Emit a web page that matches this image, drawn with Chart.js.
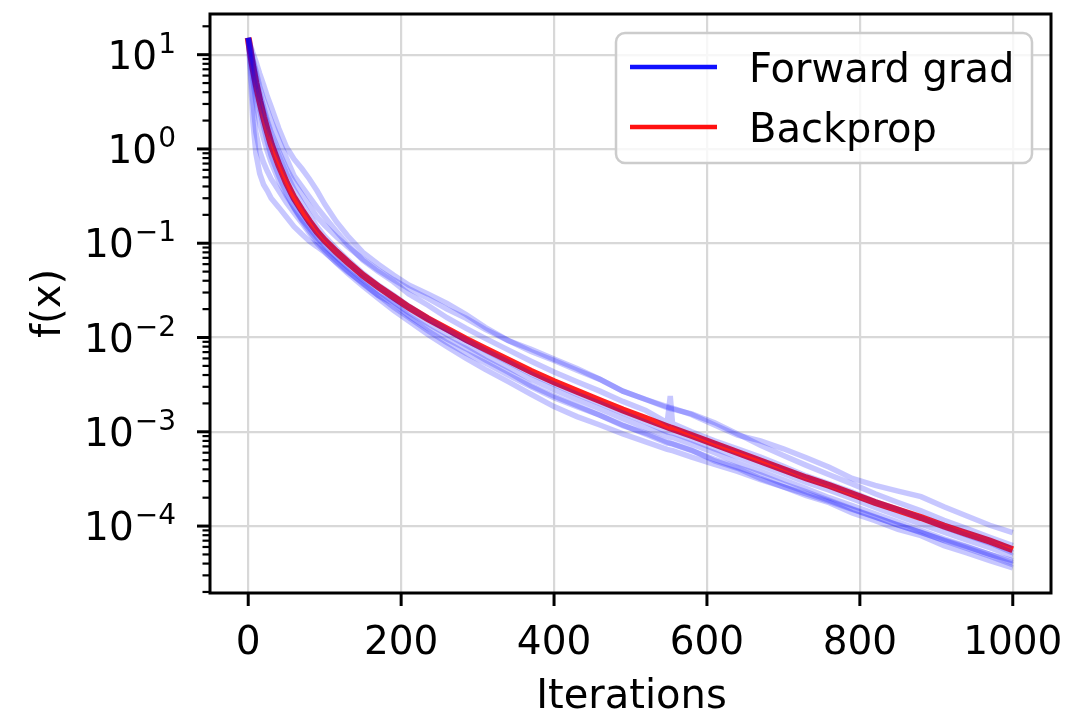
<!DOCTYPE html>
<html>
<head>
<meta charset="utf-8">
<title>Forward grad vs Backprop</title>
<script src="https://cdn.jsdelivr.net/npm/chart.js@4.4.1/dist/chart.umd.min.js"></script>
<style>
  html, body { margin: 0; padding: 0; background: #ffffff; }
  #wrap { width: 1072px; height: 721px; }
</style>
</head>
<body>
<div id="wrap"><canvas id="lossChart" width="1072" height="721"></canvas></div>
<script>
// iteration grid shared by all curves
const iterations = [0, 3, 6, 10, 15, 20, 25, 30, 40, 50, 60, 70, 80, 90, 100, 115, 130, 150, 170, 190,
  210, 235, 260, 285, 310, 340, 370, 400, 430, 460, 490, 520, 548, 552, 555, 580, 610, 640, 670, 700,
  730, 760, 790, 820, 850, 880, 910, 940, 970, 1000];

// backprop f(x)
const backprop = [15.1, 10.5, 7.41, 5.01, 3.24, 2.19, 1.55, 1.12, 0.676, 0.437, 0.302, 0.224, 0.170, 0.132, 0.107, 0.0813, 0.0631, 0.0457, 0.0347, 0.0269,
  0.0209, 0.0158, 0.0123, 0.00955, 0.00759, 0.00575, 0.00437, 0.00339, 0.00269, 0.00214, 0.00170, 0.00138, 0.00113, 0.00110, 0.00108, 0.000912, 0.000741, 0.000603, 0.000490, 0.000398,
  0.000324, 0.000269, 0.000219, 0.000178, 0.000148, 0.000123, 0.000100, 0.0000832, 0.0000692, 0.0000562];

// forward gradient runs
const fwdRun1 = [15.1, 6.0, 2.0, 0.90, 0.55, 0.42, 0.36, 0.30, 0.24, 0.19, 0.15, 0.125, 0.105, 0.092, 0.080, 0.063, 0.050, 0.038, 0.028, 0.023,
  0.017, 0.0126, 0.0096, 0.0076, 0.0058, 0.0043, 0.0031, 0.0024, 0.0019, 0.0015, 0.00116, 0.00097, 0.00078, 0.00076, 0.00075, 0.00064, 0.00049, 0.00041, 0.00032, 0.00026,
  0.00021, 0.000177, 0.000138, 0.000114, 0.000092, 0.000079, 0.000062, 0.000052, 0.000043, 0.000036];
const fwdRun2 = [15.1, 12.5, 10.5, 8.5, 6.3, 4.8, 3.6, 2.8, 1.65, 1.05, 0.78, 0.62, 0.48, 0.36, 0.26, 0.17, 0.12, 0.080, 0.060, 0.046,
  0.036, 0.029, 0.023, 0.0175, 0.0128, 0.0093, 0.0075, 0.0059, 0.0047, 0.0036, 0.0027, 0.0022, 0.00185, 0.00180, 0.00178, 0.00152, 0.00118, 0.00092, 0.00080, 0.00066,
  0.00053, 0.00042, 0.00032, 0.00027, 0.000235, 0.000205, 0.000160, 0.000128, 0.000102, 0.000085];
const fwdRun3 = [15.1, 11.5, 9.0, 6.8, 4.6, 3.4, 2.6, 2.0, 1.25, 0.80, 0.52, 0.40, 0.31, 0.24, 0.19, 0.135, 0.097, 0.066, 0.050, 0.039,
  0.029, 0.022, 0.0162, 0.0125, 0.0098, 0.0074, 0.0056, 0.0043, 0.0034, 0.0027, 0.0021, 0.00168, 0.00125, 0.0024, 0.00122, 0.00100, 0.00080, 0.00066, 0.00054, 0.00043,
  0.00034, 0.00028, 0.00023, 0.000182, 0.000150, 0.000122, 0.000098, 0.000080, 0.000066, 0.000052];
const fwdRun4 = [15.1, 9.0, 5.5, 3.2, 1.9, 1.3, 0.95, 0.72, 0.46, 0.32, 0.24, 0.18, 0.145, 0.115, 0.094, 0.072, 0.056, 0.041, 0.031, 0.024,
  0.0185, 0.0140, 0.0108, 0.0083, 0.0064, 0.0048, 0.0036, 0.0028, 0.0022, 0.00175, 0.00138, 0.00110, 0.00090, 0.00088, 0.00087, 0.00074, 0.00060, 0.00047, 0.00038, 0.00031,
  0.00025, 0.00020, 0.000165, 0.000135, 0.000110, 0.000090, 0.000073, 0.000061, 0.000050, 0.000041];
const fwdRun5 = [15.1, 12.0, 8.8, 6.0, 4.0, 2.8, 2.0, 1.5, 0.95, 0.62, 0.44, 0.33, 0.25, 0.19, 0.155, 0.118, 0.092, 0.068, 0.052, 0.041,
  0.033, 0.026, 0.020, 0.0160, 0.0122, 0.0093, 0.0071, 0.0057, 0.0045, 0.0036, 0.0027, 0.0022, 0.00180, 0.00176, 0.00174, 0.00155, 0.00125, 0.00095, 0.00072, 0.00056,
  0.00044, 0.00035, 0.00028, 0.00022, 0.000178, 0.000145, 0.000115, 0.000094, 0.000076, 0.000062];
const fwdRun6 = [15.1, 10.0, 6.6, 4.2, 2.6, 1.75, 1.2, 0.85, 0.52, 0.34, 0.235, 0.175, 0.135, 0.106, 0.086, 0.066, 0.051, 0.037, 0.028, 0.021,
  0.0163, 0.0118, 0.0088, 0.0068, 0.0054, 0.0040, 0.0030, 0.0023, 0.00185, 0.00150, 0.00118, 0.00094, 0.00076, 0.00075, 0.00074, 0.00063, 0.00051, 0.00042, 0.00035, 0.00028,
  0.00023, 0.000188, 0.000152, 0.000125, 0.000102, 0.000086, 0.000070, 0.000058, 0.000048, 0.000039];
const fwdRun7 = [15.1, 11.0, 8.0, 5.4, 3.5, 2.5, 1.85, 1.38, 0.86, 0.55, 0.37, 0.27, 0.20, 0.150, 0.118, 0.088, 0.067, 0.048, 0.036, 0.028,
  0.0215, 0.0160, 0.0121, 0.0094, 0.0073, 0.0055, 0.0041, 0.0032, 0.0025, 0.0020, 0.00158, 0.00126, 0.00100, 0.00098, 0.00097, 0.00082, 0.00066, 0.00054, 0.00044, 0.00036,
  0.00029, 0.00024, 0.000195, 0.000158, 0.000128, 0.000105, 0.000086, 0.000071, 0.000059, 0.000048];
const fwdRun8 = [15.1, 7.5, 3.2, 1.5, 0.95, 0.72, 0.58, 0.48, 0.36, 0.27, 0.21, 0.165, 0.128, 0.100, 0.082, 0.062, 0.048, 0.035, 0.026, 0.0195,
  0.0150, 0.0108, 0.0080, 0.0060, 0.0046, 0.0034, 0.0025, 0.00185, 0.00145, 0.00118, 0.00095, 0.00078, 0.00065, 0.00064, 0.00063, 0.00054, 0.00045, 0.00038, 0.00031, 0.00026,
  0.00022, 0.000183, 0.000150, 0.000124, 0.000103, 0.000085, 0.000071, 0.000060, 0.000050, 0.000043];

const forwardRuns = [fwdRun1, fwdRun2, fwdRun3, fwdRun4, fwdRun5, fwdRun6, fwdRun7, fwdRun8];

// axes
const xTickValues = [0, 200, 400, 600, 800, 1000];
const yDecadePowers = [1, 0, -1, -2, -3, -4];
const seriesLabels = ['Forward grad', 'Backprop'];
const xTitle = 'Iterations';
const yTitle = 'f(x)';

const FONT = "'DejaVu Sans', 'Liberation Sans', sans-serif";

function isDecade(v) {
    const l = Math.log10(v);
    return Math.abs(l - Math.round(l)) < 1e-6;
}

// minor + major log tick positions
const yMin = 1.95e-5, yMax = 27;
const yTickValues = [];
for (let p = -5; p <= 1; p++) {
    for (let k = 1; k <= 9; k++) {
        const v = k * Math.pow(10, p);
        if (v >= yMin && v <= yMax) yTickValues.push(v);
    }
}

function toPoints(values) {
    return values.map((v, i) => ({ x: iterations[i], y: v }));
}

const datasets = forwardRuns.map(run => ({
    label: seriesLabels[0],
    data: toPoints(run),
    borderColor: 'rgba(0, 0, 255, 0.22)',
    borderWidth: 5.5,
    pointRadius: 0,
    fill: false,
    tension: 0
}));
datasets.push({
    label: seriesLabels[1],
    data: toPoints(backprop),
    borderColor: 'rgba(255, 0, 0, 0.88)',
    borderWidth: 7,
    pointRadius: 0,
    fill: false,
    tension: 0
});

/**
 * Draws frame, matplotlib style ticks/labels, axis titles and the legend box
 */
const decorPlugin = {
    id: 'decor',
    afterDraw(chart) {
        const ctx = chart.ctx;
        const area = chart.chartArea;
        const xs = chart.scales.x;
        const ys = chart.scales.y;

        ctx.save();
        ctx.strokeStyle = '#000';
        ctx.fillStyle = '#000';
        ctx.lineCap = 'butt';

        // frame
        ctx.lineWidth = 3;
        ctx.strokeRect(area.left, area.top, area.right - area.left, area.bottom - area.top);

        // x ticks
        ctx.font = '39px ' + FONT;
        ctx.textAlign = 'center';
        ctx.textBaseline = 'alphabetic';
        xTickValues.forEach(v => {
            const px = xs.getPixelForValue(v);
            ctx.lineWidth = 3;
            ctx.beginPath();
            ctx.moveTo(px, area.bottom);
            ctx.lineTo(px, area.bottom + 13);
            ctx.stroke();
            ctx.fillText(String(v), px, 654);
        });

        // y minor/major ticks
        yTickValues.forEach(v => {
            const py = ys.getPixelForValue(v);
            const major = isDecade(v);
            ctx.lineWidth = major ? 3 : 2.2;
            ctx.beginPath();
            ctx.moveTo(area.left - (major ? 13 : 7.5), py);
            ctx.lineTo(area.left, py);
            ctx.stroke();
        });

        // y labels 10^p
        const labelRight = 176;
        yDecadePowers.forEach(p => {
            const py = ys.getPixelForValue(Math.pow(10, p));
            const expText = String(p).replace('-', '\u2212');
            ctx.textAlign = 'right';
            ctx.font = '28px ' + FONT;
            const expW = ctx.measureText(expText).width;
            ctx.fillText(expText, labelRight, py - 2);
            ctx.font = '39px ' + FONT;
            ctx.fillText('10', labelRight - expW - 1, py + 14);
        });

        // axis titles
        ctx.font = '40px ' + FONT;
        ctx.textAlign = 'center';
        ctx.fillText(xTitle, (area.left + area.right) / 2 + 1, 708);
        ctx.save();
        ctx.translate(60, (area.top + area.bottom) / 2);
        ctx.rotate(-Math.PI / 2);
        ctx.fillText(yTitle, 0, 0);
        ctx.restore();

        // legend
        const lx = 616, ly = 33, lw = 416, lh = 130, r = 9;
        ctx.beginPath();
        ctx.moveTo(lx + r, ly);
        ctx.arcTo(lx + lw, ly, lx + lw, ly + lh, r);
        ctx.arcTo(lx + lw, ly + lh, lx, ly + lh, r);
        ctx.arcTo(lx, ly + lh, lx, ly, r);
        ctx.arcTo(lx, ly, lx + lw, ly, r);
        ctx.closePath();
        ctx.fillStyle = 'rgba(255,255,255,0.8)';
        ctx.fill();
        ctx.strokeStyle = '#cccccc';
        ctx.lineWidth = 2.5;
        ctx.stroke();

        const entries = [
            { text: seriesLabels[0], color: '#1010ff', y: 67 },
            { text: seriesLabels[1], color: '#ff1010', y: 127 }
        ];
        entries.forEach(e => {
            ctx.strokeStyle = e.color;
            ctx.lineWidth = 4.5;
            ctx.beginPath();
            ctx.moveTo(630, e.y);
            ctx.lineTo(717, e.y);
            ctx.stroke();
            ctx.fillStyle = '#000';
            ctx.textAlign = 'left';
            ctx.font = '40px ' + FONT;
            ctx.fillText(e.text, 749, e.y + 15);
        });

        ctx.restore();
    }
};

const lossChart = new Chart(document.getElementById('lossChart').getContext('2d'), {
    type: 'line',
    data: { datasets: datasets },
    options: {
        responsive: false,
        animation: false,
        parsing: true,
        layout: { padding: { left: 0, right: 21, top: 14, bottom: 0 } },
        plugins: {
            legend: { display: false },
            tooltip: { enabled: false }
        },
        scales: {
            x: {
                type: 'linear',
                min: -50,
                max: 1050,
                afterBuildTicks: (scale) => { scale.ticks = xTickValues.map(v => ({ value: v })); },
                afterFit: (scale) => { scale.height = 128; },
                ticks: { display: false },
                grid: { color: '#d8d8d8', lineWidth: 2.2, drawTicks: false },
                border: { display: false }
            },
            y: {
                type: 'logarithmic',
                min: yMin,
                max: yMax,
                afterBuildTicks: (scale) => { scale.ticks = yTickValues.map(v => ({ value: v })); },
                afterFit: (scale) => { scale.width = 210; },
                ticks: { display: false },
                grid: {
                    color: (c) => (c.tick && isDecade(c.tick.value)) ? '#d8d8d8' : 'rgba(0,0,0,0)',
                    lineWidth: 2.2,
                    drawTicks: false
                },
                border: { display: false }
            }
        }
    },
    plugins: [decorPlugin]
});
</script>
</body>
</html>
